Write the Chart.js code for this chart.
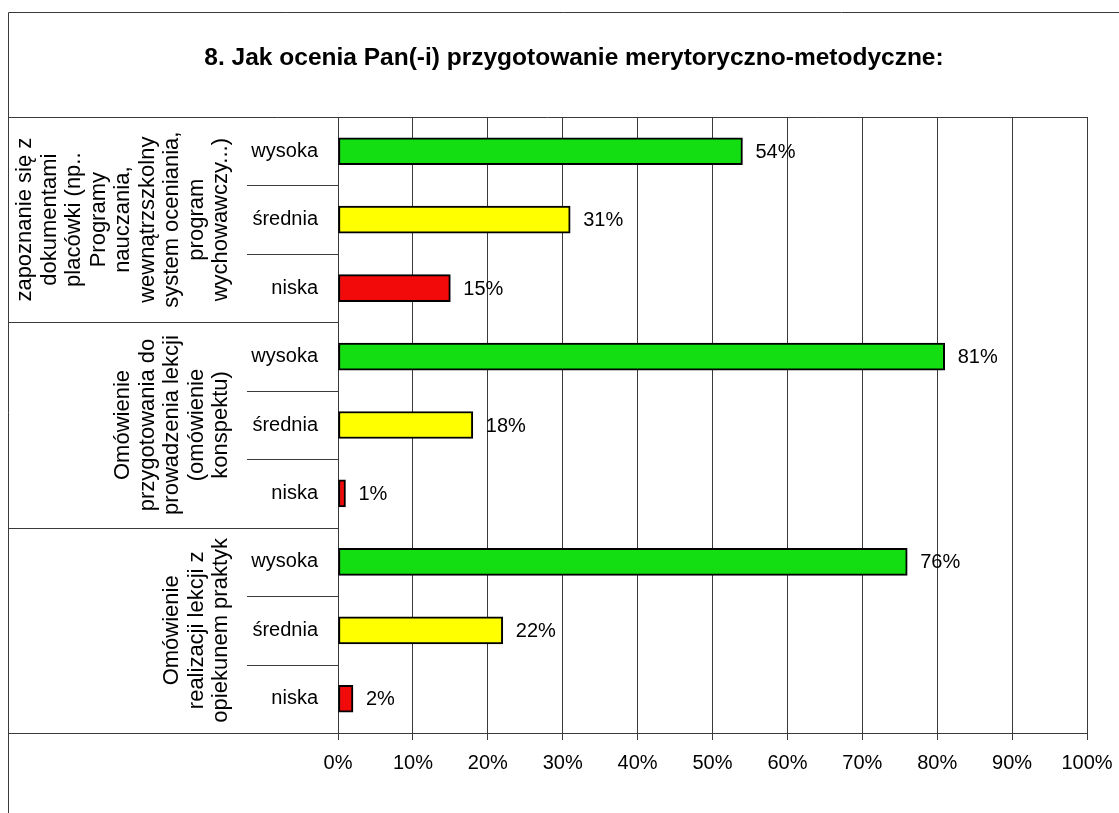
<!DOCTYPE html>
<html>
<head>
<meta charset="utf-8">
<script src="https://cdn.jsdelivr.net/npm/chart.js@4/dist/chart.umd.min.js"></script>
<style>
html,body{margin:0;padding:0;background:#fff;}
#wrap{position:relative;width:1119px;height:813px;}
</style>
</head>
<body>
<div id="wrap"><canvas id="c" width="1119" height="813"></canvas></div>
<script>
const TITLE = '8. Jak ocenia Pan(-i) przygotowanie merytoryczno-metodyczne:';
const LEVELS = ['wysoka', 'średnia', 'niska'];
const GROUPS = [
  ['zapoznanie się z', 'dokumentami', 'placówki (np..', 'Programy', 'nauczania,', 'wewnątrzszkolny', 'system oceniania,', 'program', 'wychowawczy...)'],
  ['Omówienie', 'przygotowania do', 'prowadzenia lekcji', '(omówienie', 'konspektu)'],
  ['Omówienie', 'realizacji lekcji z', 'opiekunem praktyk']
];
const GROUP1_VALUES = [54, 31, 15];
const GROUP2_VALUES = [81, 18, 1];
const GROUP3_VALUES = [76, 22, 2];
const LEVEL_COLORS = ['#12DE12', '#FFFF00', '#F20A0A'];
const X_TICKS = [0, 10, 20, 30, 40, 50, 60, 70, 80, 90, 100];

const categories = [];
GROUPS.forEach(() => LEVELS.forEach(l => categories.push(l)));
const values = [].concat(GROUP1_VALUES, GROUP2_VALUES, GROUP3_VALUES);
const colors = [];
GROUPS.forEach(() => LEVEL_COLORS.forEach(c => colors.push(c)));

const FONT = "'Liberation Sans', Arial, sans-serif";
const LINE = '#3a3a3a';

const decor = {
  id: 'decor',
  afterDraw(chart) {
    const ctx = chart.ctx;
    const ca = chart.chartArea;
    const y = chart.scales.y;
    const per = LEVELS.length;
    ctx.save();
    ctx.strokeStyle = LINE;
    ctx.lineWidth = 1;
    ctx.beginPath();
    ctx.moveTo(8.5, 813); ctx.lineTo(8.5, 12.5); ctx.lineTo(1119, 12.5);
    ctx.moveTo(8, Math.round(ca.top) + 0.5); ctx.lineTo(ca.right, Math.round(ca.top) + 0.5);
    ctx.moveTo(8, Math.round(ca.bottom) + 0.5); ctx.lineTo(ca.left, Math.round(ca.bottom) + 0.5);
    ctx.stroke();
    const n = categories.length;
    for (let i = 1; i < n; i++) {
      const yy = Math.round((y.getPixelForValue(i - 1) + y.getPixelForValue(i)) / 2) + 0.5;
      ctx.beginPath();
      if (i % per === 0) { ctx.moveTo(8, yy); } else { ctx.moveTo(247, yy); }
      ctx.lineTo(ca.left, yy);
      ctx.stroke();
    }
    ctx.fillStyle = '#000';
    ctx.font = '22px ' + FONT;
    ctx.textAlign = 'center';
    ctx.textBaseline = 'middle';
    const lh = 24.5;
    GROUPS.forEach((lines, g) => {
      const yTop = (y.getPixelForValue(g * per) * 1.5 - y.getPixelForValue(g * per + 1) * 0.5);
      const yBot = (y.getPixelForValue(g * per + per - 1) * 1.5 - y.getPixelForValue(g * per + per - 2) * 0.5);
      const cy = (yTop + yBot) / 2;
      const lastX = 221;
      lines.forEach((t, k) => {
        const x = lastX - (lines.length - 1 - k) * lh;
        ctx.save();
        ctx.translate(x, cy);
        ctx.rotate(-Math.PI / 2);
        ctx.fillText(t, 0, 0);
        ctx.restore();
      });
    });
    const meta = chart.getDatasetMeta(0);
    ctx.font = '20px ' + FONT;
    ctx.textAlign = 'left';
    meta.data.forEach((bar, i) => {
      ctx.fillText(values[i] + '%', bar.x + 13, bar.y + 1);
    });
    ctx.font = 'bold 24.5px ' + FONT;
    ctx.textAlign = 'center';
    ctx.fillText(TITLE, 574, 58);
    ctx.restore();
  }
};

new Chart(document.getElementById('c'), {
  type: 'bar',
  data: {
    labels: categories,
    datasets: [{
      data: values,
      backgroundColor: colors,
      borderColor: '#000',
      borderWidth: 2,
      borderSkipped: false,
      barThickness: 27
    }]
  },
  options: {
    indexAxis: 'y',
    responsive: false,
    animation: false,
    devicePixelRatio: 1,
    layout: { autoPadding: false, padding: { top: 117, left: 8, right: 32, bottom: 0 } },
    plugins: { legend: { display: false }, tooltip: { enabled: false }, title: { display: false } },
    scales: {
      x: {
        min: 0, max: 100,
        afterFit(s) { s.height = 80; s.paddingLeft = 0; s.paddingRight = 0; },
        afterBuildTicks(s) { s.ticks = X_TICKS.map(v => ({ value: v })); },
        grid: { color: LINE, lineWidth: 1, drawTicks: true, tickLength: 7, tickColor: LINE },
        border: { display: true, color: LINE, width: 1 },
        ticks: { color: '#000', font: { family: FONT, size: 20 }, padding: 11, callback: v => v + '%', maxRotation: 0 }
      },
      y: {
        afterFit(s) { s.width = 330; s.paddingTop = 0; s.paddingBottom = 0; },
        grid: { display: false, drawTicks: false },
        border: { display: true, color: LINE, width: 1 },
        ticks: { color: '#000', font: { family: FONT, size: 20 }, padding: 20 }
      }
    }
  },
  plugins: [decor]
});
</script>
</body>
</html>
